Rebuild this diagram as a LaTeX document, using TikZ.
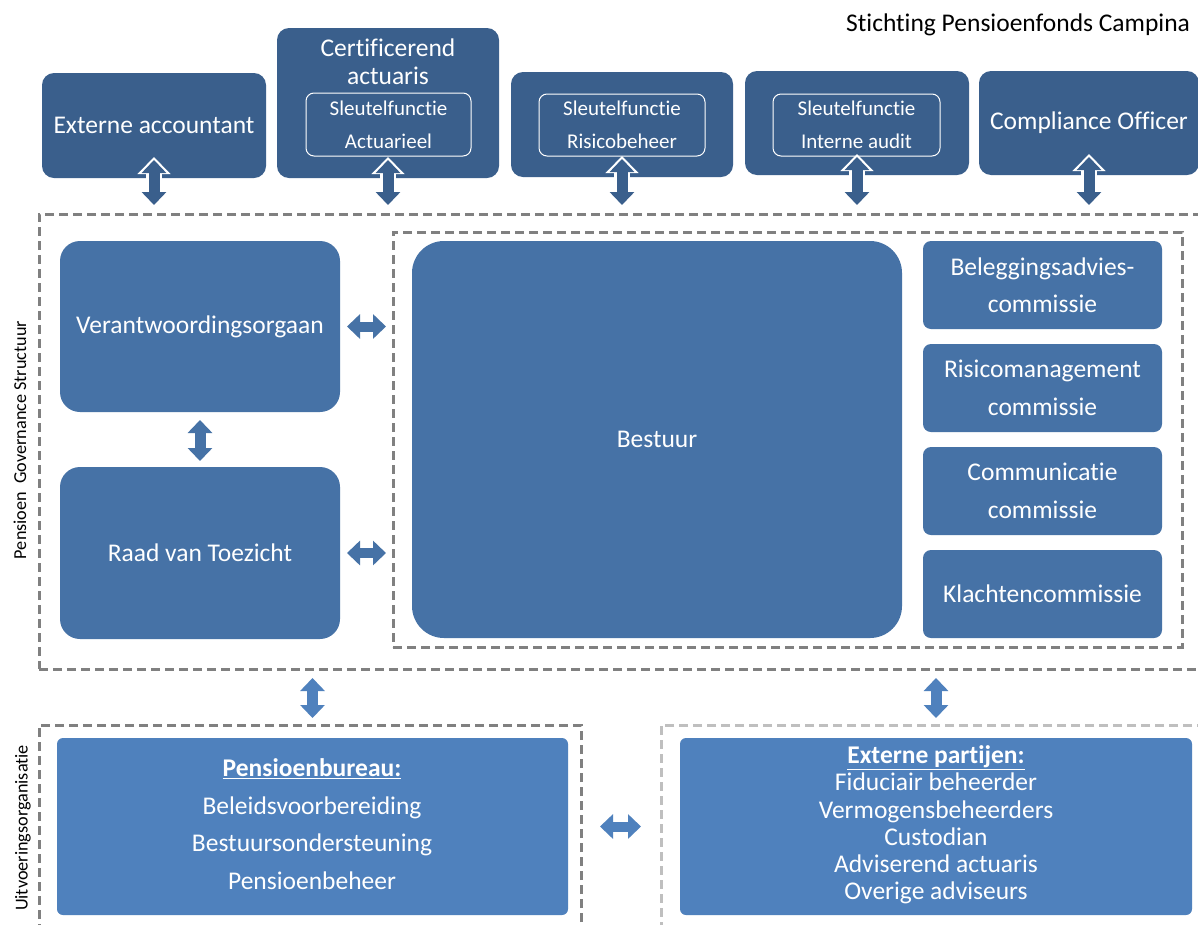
\documentclass[tikz,border=0pt]{standalone}
\usepackage{fontspec}
\setmainfont[Ligatures=NoCommon]{Carlito}
\usetikzlibrary{arrows.meta,calc}
\definecolor{topblue}{RGB}{58,95,140}
\definecolor{midblue}{RGB}{70,114,166}
\definecolor{botblue}{RGB}{79,129,189}
\definecolor{dashgray}{RGB}{128,128,128}
\definecolor{dashlight}{RGB}{191,191,191}
\begin{document}
\begin{tikzpicture}[x=1pt,y=-1pt,
  every node/.style={inner sep=0pt, outer sep=0pt},
  wtext/.style={text=white, font=\fontsize{25.5}{30}\selectfont},
  topbox/.style={fill=topblue, rounded corners=12pt, anchor=north west, wtext},
  innerbox/.style={draw=white, line width=1pt, fill=topblue, rounded corners=8pt, anchor=north west},
  smalltext/.style={text=white, font=\fontsize{21}{33}\selectfont, align=center},
  midbox/.style={fill=midblue, anchor=north west, wtext, align=center},
  combox/.style={fill=midblue, rounded corners=8pt, anchor=north west, wtext, align=center, font=\fontsize{25.5}{37.5}\selectfont},
  botbox/.style={fill=botblue, rounded corners=6pt, anchor=north west},
  dashbox/.style={draw=dashgray, line width=3pt, dash pattern=on 9pt off 5pt, anchor=north west},
  sidelabel/.style={rotate=90, font=\fontsize{18.2}{20}\selectfont, text=black},
  barrow/.style={line width=11pt, draw=#1,
    {Triangle[width=24pt,length=13pt]}-{Triangle[width=24pt,length=13pt]},
    preaction={draw=white, line width=16pt, shorten <=-3pt, shorten >=-3pt,
      {Triangle[width=32pt,length=17pt]}-{Triangle[width=32pt,length=17pt]}}}
]
\clip (0,0) rectangle (1198,924);
\fill[white] (0,0) rectangle (1198,924);

% title
\node[font=\fontsize{25.5}{30}\selectfont, anchor=east] (title) at (1190,25) {Stichting Pensioenfonds Campina};

% dashed frames
\node[dashbox, minimum width=1166pt, minimum height=455pt] (gdash) at (39,214) {};
\node[dashbox, minimum width=789pt, minimum height=415pt] (bdash) at (393,232) {};
\node[dashbox, minimum width=542pt, minimum height=215pt] (udash) at (39,725) {};
\node[dashbox, draw=dashlight, minimum width=550pt, minimum height=215pt] (edash) at (661,725) {};

% top row
\node[topbox, minimum width=224pt, minimum height=105pt] (ea) at (42,73) {Externe accountant};
\node[topbox, minimum width=222pt, minimum height=150pt] (ca) at (277,28) {};
\node[wtext, align=center, font=\fontsize{25.5}{28}\selectfont] (catext) at (388,62) {Certificerend\\actuaris};
\node[innerbox, minimum width=165pt, minimum height=63pt] (caIn) at (306,93) {};
\node[smalltext] at (caIn.center) {Sleutelfunctie\\Actuarieel};

\node[topbox, minimum width=222pt, minimum height=105pt] (rb) at (511,72) {};
\node[innerbox, minimum width=166pt, minimum height=62pt] (rbIn) at (539,94) {};
\node[smalltext] at (rbIn.center) {Sleutelfunctie\\Risicobeheer};

\node[topbox, minimum width=224pt, minimum height=104pt] (ia) at (745,71) {};
\node[innerbox, minimum width=167pt, minimum height=62pt] (iaIn) at (773,94) {};
\node[smalltext] at (iaIn.center) {Sleutelfunctie\\Interne audit};

\node[topbox, minimum width=220pt, minimum height=104pt] (co) at (979,71) {Compliance Officer};

% top arrows
\foreach \b in {ea,ca,rb,ia,co}{
  \draw[barrow=topblue] ($(\b.south)+(0,-18)$) -- ($(gdash.north -| \b.south)+(0,-9)$);
}

% governance
\node[midbox, rounded corners=20pt, minimum width=280pt, minimum height=171pt] (vo) at (60,241) {Verantwoordingsorgaan};
\node[midbox, rounded corners=20pt, minimum width=280pt, minimum height=172pt] (rvt) at (60,467) {Raad van Toezicht};
\node[midbox, rounded corners=32pt, minimum width=490pt, minimum height=397pt] (best) at (412,241) {Bestuur};

\node[combox, minimum width=239pt, minimum height=88pt] (c1) at (923,241) {Beleggingsadvies-\\commissie};
\node[combox, minimum width=239pt, minimum height=88pt] (c2) at (923,344) {Risicomanagement\\commissie};
\node[combox, minimum width=239pt, minimum height=88pt] (c3) at (923,447) {Communicatie\\commissie};
\node[combox, minimum width=239pt, minimum height=88pt] (c4) at (923,550) {Klachtencommissie};

\draw[barrow=midblue] ($(vo.south)+(0,8)$) -- ($(rvt.north)+(0,-6)$);
\draw[barrow=midblue, line width=10pt] ($(vo.east)+(7,0)$) -- ($(bdash.west |- vo.east)+(-7,0)$);
\draw[barrow=midblue, line width=10pt] ($(rvt.east)+(7,0)$) -- ($(bdash.west |- rvt.east)+(-7,0)$);

\node[sidelabel] (glabel) at (20,440) {Pensioen\ \ Governance Structuur};

% bottom
\node[botbox, minimum width=511pt, minimum height=177pt] (pb) at (57,738) {};
\node[wtext, align=center, font=\fontsize{25.5}{37.7}\selectfont] (pbtext) at (312,824)
  {\underline{\textbf{Pensioenbureau:}}\\Beleidsvoorbereiding\\Bestuursondersteuning\\Pensioenbeheer};
\node[botbox, minimum width=512pt, minimum height=177pt] (ep) at (680,738) {};
\node[wtext, align=center, font=\fontsize{25.5}{27.2}\selectfont] (eptext) at (936,825)
  {\underline{\textbf{Externe partijen:}}\\Fiduciair beheerder\\Vermogensbeheerders\\Custodian\\Adviserend actuaris\\Overige adviseurs};

\node[sidelabel] (ulabel) at (23,828) {Uitvoeringsorganisatie};

\draw[barrow=botblue] ($(gdash.south -| pb.north)+(0,9)$) -- ($(udash.north -| pb.north)+(0,-7)$);
\draw[barrow=botblue] ($(gdash.south -| ep.north)+(0,9)$) -- ($(edash.north -| ep.north)+(0,-7)$);
\draw[barrow=botblue, line width=10pt] ($(udash.east |- pb.center)+(19,0)$) -- ($(edash.west |- pb.center)+(-20,0)$);
\end{tikzpicture}
\end{document}
